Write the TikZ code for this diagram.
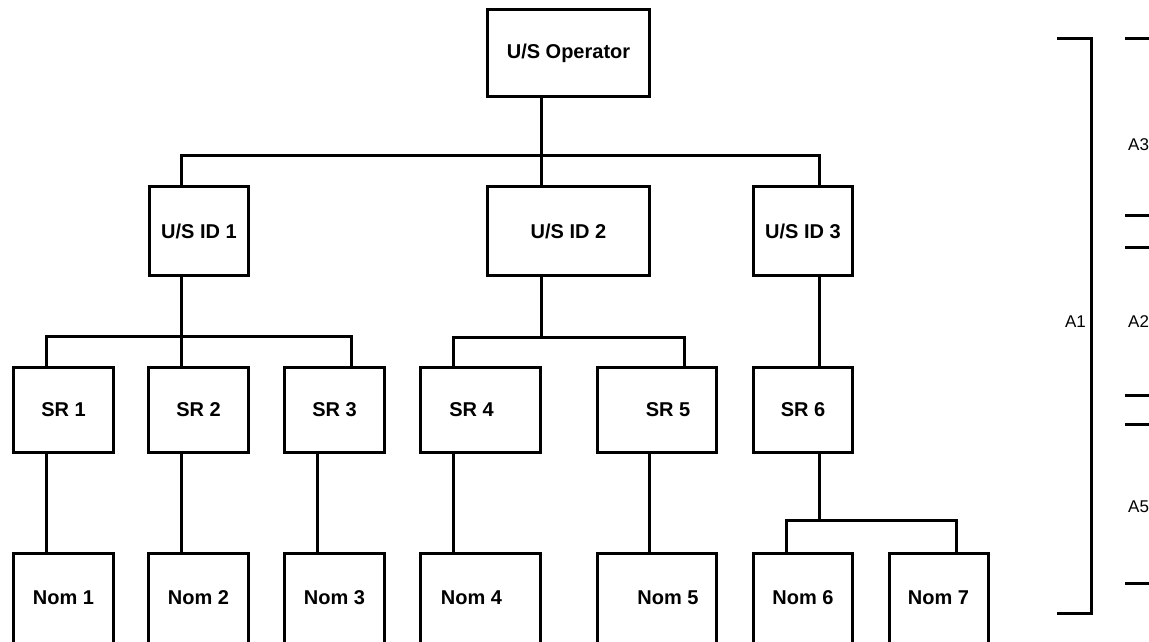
\documentclass[tikz,border=0pt]{standalone}
\usepackage{fontspec}
\setmainfont{Liberation Sans}
\begin{document}
\begin{tikzpicture}[x=1pt,y=-1pt,
  box/.style={draw, line width=3pt, inner sep=0pt, minimum height=#1, font=\fontsize{20}{24}\selectfont\bfseries},
  box/.default=85pt,
  lbl/.style={font=\fontsize{20}{24}\selectfont\bfseries, inner sep=0pt},
  wire/.style={line width=3pt},
  alab/.style={font=\fontsize{17}{20}\selectfont, inner sep=0pt}]
\fill[white] (0,0) rectangle (1149,641);
\clip (0,0) rectangle (1149,641);
% top level
\node[box=87pt, minimum width=162pt] (op) at (568.5,53) {U/S Operator};
% second level
\node[box=89pt, minimum width=99pt] (id1) at (199,231) {U/S ID 1};
\node[box=89pt, minimum width=162pt] (id2) at (568.5,231) {U/S ID 2};
\node[box=89pt, minimum width=99pt] (id3) at (803,231) {U/S ID 3};
% third level
\node[box=85pt, minimum width=100pt] (sr1) at (63.5,410) {SR 1};
\node[box=85pt, minimum width=100pt] (sr2) at (198.5,410) {SR 2};
\node[box=85pt, minimum width=100pt] (sr3) at (334.5,410) {SR 3};
\node[box=85pt, minimum width=120pt, label={[lbl, xshift=-9pt]center:SR 4}] (sr4) at (480.5,410) {};
\node[box=85pt, minimum width=119pt, label={[lbl, xshift=11pt]center:SR 5}] (sr5) at (657,410) {};
\node[box=85pt, minimum width=99pt] (sr6) at (803,410) {SR 6};
% fourth level (cut off at the bottom)
\node[box=96pt, minimum width=100pt, label={[lbl, yshift=3pt]center:Nom 1}] (nom1) at (63.5,601) {};
\node[box=96pt, minimum width=100pt, label={[lbl, yshift=3pt]center:Nom 2}] (nom2) at (198.5,601) {};
\node[box=96pt, minimum width=100pt, label={[lbl, yshift=3pt]center:Nom 3}] (nom3) at (334.5,601) {};
\node[box=96pt, minimum width=120pt, label={[lbl, xshift=-9pt, yshift=3pt]center:Nom 4}] (nom4) at (480.5,601) {};
\node[box=96pt, minimum width=119pt, label={[lbl, xshift=11pt, yshift=3pt]center:Nom 5}] (nom5) at (657,601) {};
\node[box=96pt, minimum width=99pt, label={[lbl, yshift=3pt]center:Nom 6}] (nom6) at (803,601) {};
\node[box=96pt, minimum width=99pt, label={[lbl, yshift=3pt]center:Nom 7}] (nom7) at (938.5,601) {};
% bus coordinates
\coordinate (t1) at (181,155);
\coordinate (t2) at (541.5,155);
\coordinate (t3) at (819,155);
\coordinate (u1) at (181.5,336);
\coordinate (s1) at (46,336);
\coordinate (s3) at (351,336);
\coordinate (d3) at (317,500);
\coordinate (u2) at (541.5,337);
\coordinate (s4) at (453,337);
\coordinate (s5) at (684,337);
\coordinate (d5) at (649,500);
\coordinate (u6) at (819,520);
\coordinate (s6) at (786,520);
\coordinate (s7) at (956,520);
% connectors
\draw[wire] (op.south -| t2) -- (id2.north -| t2);
\draw[wire] (id1.north -| t1) |- (t3) -- (id3.north -| t3);
\draw[wire] (id1.south -| u1) -- (sr2.north -| u1);
\draw[wire] (sr1.north -| s1) |- (s3) -- (sr3.north -| s3);
\draw[wire] (id2.south -| u2) -- (u2);
\draw[wire] (sr4.north -| s4) |- (s5) -- (sr5.north -| s5);
\draw[wire] (id3.south -| t3) -- (sr6.north -| t3);
\draw[wire] (sr1.south -| s1) -- (nom1.north -| s1);
\draw[wire] (sr2.south -| u1) -- (nom2.north -| u1);
\draw[wire] (sr3.south -| d3) -- (nom3.north -| d3);
\draw[wire] (sr4.south -| s4) -- (nom4.north -| s4);
\draw[wire] (sr5.south -| d5) -- (nom5.north -| d5);
\draw[wire] (sr6.south -| u6) -- (u6);
\draw[wire] (nom6.north -| s6) |- (s7) -- (nom7.north -| s7);
% bracket and side labels
\draw[wire] (1057,38) -- (1091,38) -- (1091,613) -- (1057,613);
\node[alab, anchor=east] (a1) at (1086,322) {A1};
\draw[wire] (1125,38) -- (1152,38);
\draw[wire] (1125,215) -- (1152,215);
\draw[wire] (1125,247) -- (1152,247);
\draw[wire] (1125,395) -- (1152,395);
\draw[wire] (1125,424) -- (1152,424);
\draw[wire] (1125,583) -- (1152,583);
\node[alab, anchor=west] (a3) at (1128,145) {A3};
\node[alab, anchor=west] (a2) at (1128,322) {A2};
\node[alab, anchor=west] (a5) at (1128,507) {A5};
\end{tikzpicture}
\end{document}
